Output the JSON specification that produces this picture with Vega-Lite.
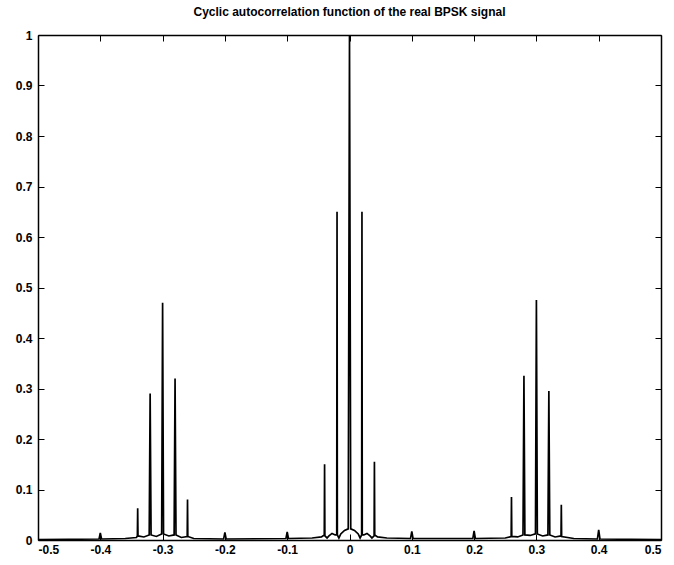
{
  "$schema": "https://vega.github.io/schema/vega-lite/v6.json",
  "width": 623,
  "height": 505,
  "autosize": "none",
  "padding": {"left": 38, "top": 35, "right": 13, "bottom": 25},
  "background": "white",
  "title": {
    "text": "Cyclic autocorrelation function of the real BPSK signal",
    "font": "Liberation Sans",
    "fontSize": 12,
    "fontWeight": "bold",
    "color": "black",
    "anchor": "middle",
    "offset": 10
  },
  "data": {
    "values": [
      {"f": -0.5, "r": 0.001},
      {"f": -0.402, "r": 0.002},
      {"f": -0.4, "r": 0.014},
      {"f": -0.398, "r": 0.002},
      {"f": -0.36, "r": 0.003},
      {"f": -0.342, "r": 0.005},
      {"f": -0.3405, "r": 0.008},
      {"f": -0.34, "r": 0.063},
      {"f": -0.3395, "r": 0.008},
      {"f": -0.33, "r": 0.006},
      {"f": -0.3215, "r": 0.01},
      {"f": -0.32, "r": 0.29},
      {"f": -0.3185, "r": 0.01},
      {"f": -0.31, "r": 0.007},
      {"f": -0.3015, "r": 0.012},
      {"f": -0.3, "r": 0.47},
      {"f": -0.2985, "r": 0.012},
      {"f": -0.29, "r": 0.008},
      {"f": -0.2815, "r": 0.01},
      {"f": -0.28, "r": 0.32},
      {"f": -0.2785, "r": 0.01},
      {"f": -0.27, "r": 0.005},
      {"f": -0.2605, "r": 0.007},
      {"f": -0.26, "r": 0.08},
      {"f": -0.2595, "r": 0.007},
      {"f": -0.25, "r": 0.003},
      {"f": -0.202, "r": 0.002},
      {"f": -0.2, "r": 0.015},
      {"f": -0.198, "r": 0.002},
      {"f": -0.102, "r": 0.003},
      {"f": -0.1, "r": 0.016},
      {"f": -0.098, "r": 0.003},
      {"f": -0.06, "r": 0.004},
      {"f": -0.045, "r": 0.006},
      {"f": -0.0405, "r": 0.01},
      {"f": -0.04, "r": 0.15},
      {"f": -0.0395, "r": 0.008},
      {"f": -0.036, "r": 0.004},
      {"f": -0.033, "r": 0.008},
      {"f": -0.028, "r": 0.013},
      {"f": -0.023, "r": 0.01},
      {"f": -0.0205, "r": 0.01},
      {"f": -0.02, "r": 0.65},
      {"f": -0.0195, "r": 0.01},
      {"f": -0.017, "r": 0.004},
      {"f": -0.014, "r": 0.012},
      {"f": -0.008, "r": 0.019},
      {"f": -0.002, "r": 0.022},
      {"f": 0, "r": 1.0},
      {"f": 0.002, "r": 0.022},
      {"f": 0.008, "r": 0.019},
      {"f": 0.014, "r": 0.012},
      {"f": 0.017, "r": 0.004},
      {"f": 0.0195, "r": 0.01},
      {"f": 0.02, "r": 0.65},
      {"f": 0.0205, "r": 0.01},
      {"f": 0.023, "r": 0.01},
      {"f": 0.028, "r": 0.013},
      {"f": 0.033, "r": 0.008},
      {"f": 0.036, "r": 0.004},
      {"f": 0.0395, "r": 0.008},
      {"f": 0.04, "r": 0.155},
      {"f": 0.0405, "r": 0.01},
      {"f": 0.045, "r": 0.006},
      {"f": 0.06, "r": 0.004},
      {"f": 0.098, "r": 0.003},
      {"f": 0.1, "r": 0.017},
      {"f": 0.102, "r": 0.003},
      {"f": 0.198, "r": 0.003},
      {"f": 0.2, "r": 0.018},
      {"f": 0.202, "r": 0.003},
      {"f": 0.25, "r": 0.004},
      {"f": 0.2595, "r": 0.007},
      {"f": 0.26, "r": 0.085},
      {"f": 0.2605, "r": 0.007},
      {"f": 0.27, "r": 0.006},
      {"f": 0.2785, "r": 0.01},
      {"f": 0.28, "r": 0.325},
      {"f": 0.2815, "r": 0.01},
      {"f": 0.29, "r": 0.009},
      {"f": 0.2985, "r": 0.012},
      {"f": 0.3, "r": 0.475},
      {"f": 0.3015, "r": 0.012},
      {"f": 0.31, "r": 0.008},
      {"f": 0.3185, "r": 0.01},
      {"f": 0.32, "r": 0.295},
      {"f": 0.3215, "r": 0.01},
      {"f": 0.33, "r": 0.006},
      {"f": 0.3395, "r": 0.008},
      {"f": 0.34, "r": 0.07},
      {"f": 0.3405, "r": 0.007},
      {"f": 0.36, "r": 0.003},
      {"f": 0.398, "r": 0.002},
      {"f": 0.4, "r": 0.02},
      {"f": 0.402, "r": 0.002},
      {"f": 0.5, "r": 0.001}
    ]
  },
  "layer": [
    {
      "mark": {"type": "line", "color": "black", "strokeWidth": 1.7, "clip": true},
      "encoding": {
        "x": {
          "field": "f", "type": "quantitative",
          "scale": {"domain": [-0.5, 0.5], "nice": false, "zero": false},
          "axis": {
            "orient": "bottom", "title": null, "values": [-0.5,-0.4,-0.3,-0.2,-0.1,0,0.1,0.2,0.3,0.4,0.5],
            "labelExpr": "replace(format(datum.value, '.1~f'), '\u2212', '-')",
            "tickSize": -6, "labelPadding": 10, "grid": false,
            "domainColor": "black", "domainWidth": 1.5, "tickColor": "black",
            "labelFont": "Liberation Sans", "labelFontSize": 12, "labelFontWeight": "bold", "labelColor": "black"
          }
        },
        "y": {
          "field": "r", "type": "quantitative",
          "scale": {"domain": [0, 1], "nice": false, "zero": false},
          "axis": {
            "orient": "left", "title": null, "values": [0,0.1,0.2,0.3,0.4,0.5,0.6,0.7,0.8,0.9,1],
            "labelExpr": "format(datum.value, '.1~f')",
            "tickSize": -6, "labelPadding": 12, "grid": false,
            "domainColor": "black", "domainWidth": 1.5, "tickColor": "black",
            "labelFont": "Liberation Sans", "labelFontSize": 12, "labelFontWeight": "bold", "labelColor": "black"
          }
        }
      }
    },
    {
      "mark": {"type": "line", "opacity": 0},
      "encoding": {
        "x": {
          "field": "f", "type": "quantitative",
          "scale": {"domain": [-0.5, 0.5], "nice": false, "zero": false},
          "axis": {
            "orient": "top", "title": null, "labels": false, "values": [-0.5,-0.4,-0.3,-0.2,-0.1,0,0.1,0.2,0.3,0.4,0.5],
            "tickSize": -6, "grid": false, "domainColor": "black", "domainWidth": 1.5, "tickColor": "black"
          }
        },
        "y": {
          "field": "r", "type": "quantitative",
          "scale": {"domain": [0, 1], "nice": false, "zero": false},
          "axis": {
            "orient": "right", "title": null, "labels": false, "values": [0,0.1,0.2,0.3,0.4,0.5,0.6,0.7,0.8,0.9,1],
            "tickSize": -6, "grid": false, "domainColor": "black", "domainWidth": 1.5, "tickColor": "black"
          }
        }
      }
    }
  ],
  "resolve": {"axis": {"x": "independent", "y": "independent"}},
  "config": {"view": {"stroke": null}}
}
